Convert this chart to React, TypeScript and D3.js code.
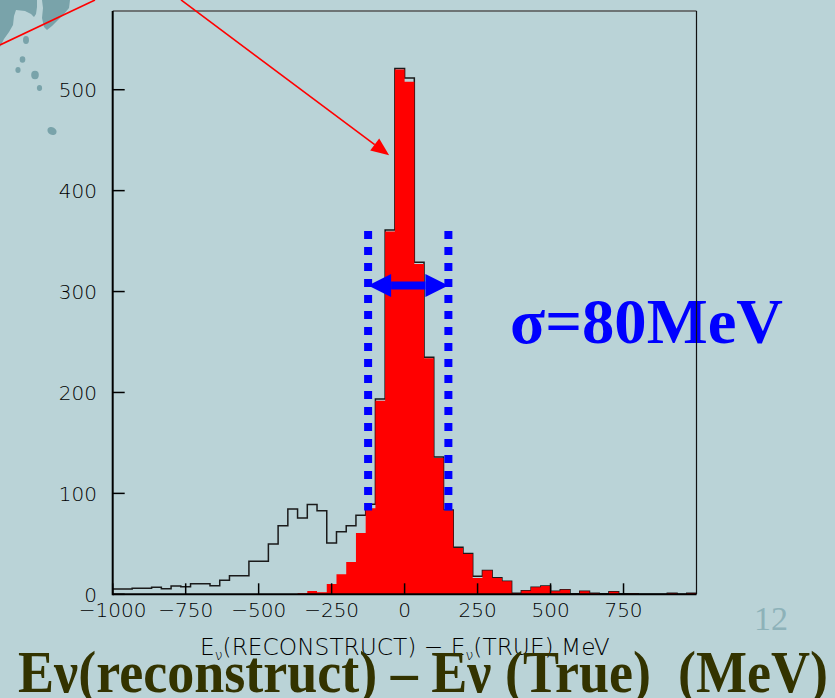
import React from "react";
import * as d3 from "d3";

// ---- data ----
const binStart = -1000;
const binCount = 60;
const binWidth = 2000 / binCount;
// total (black outline) histogram counts per bin
const totalCounts = [5.3,5.3,5.9,5.9,6.9,5.6,8.2,7.6,10.5,10.5,8.5,13.8,18.5,18.5,32.7,32.7,49.9,68,84.6,75.6,88.9,82.9,50.9,62,68,78.3,89.2,193.6,361,521,511.6,329,235,136,83.5,46.5,40.5,18,23.5,16.5,13,1,3.6,7,8.3,3,4.6,0.5,3,1,0.5,2.6,0.5,0.5,0,0,0,1,0,1];
// selected (red filled) histogram counts per bin
const redCounts = [0,0,0,0,0,0,0,0,0,0,0,0,0,0,0,0,0,0,0,1,3.3,2,10.2,19.8,32,60.8,85.3,191.7,359.5,520,508,327.4,233.8,135,83,46,40,16.2,23.5,16.2,12.9,0.7,3.6,7,8.3,3,4.6,0,3,1,0,2.6,0,0.5,0,0,0,1,0,1];
const xTicks = [-1000, -750, -500, -250, 0, 250, 500, 750];
const yTicks = [0, 100, 200, 300, 400, 500];
const sigmaLow = -125;
const sigmaHigh = 150;
const sigmaLabel = "σ=80MeV";
const slideTitle = "Eν(reconstruct) – Eν (True)  (MeV)";
const pageNumber = "12";

const W = 835;
const H = 698;

export default function App() {
  const x = d3.scaleLinear().domain([-1000, 1000]).range([112.7, 696.5]);
  const y = d3.scaleLinear().domain([0, 578]).range([594.3, 11]);
  const edges = d3.range(binCount).map((i) => binStart + i * binWidth);

  const stepPts: [number, number][] = edges.map((e, i) => [x(e), y(totalCounts[i])]);
  stepPts.push([x(1000), y(totalCounts[binCount - 1])]);
  const stepLine = d3.line().curve(d3.curveStepAfter)(stepPts) || "";

  const redPts: [number, number][] = edges.map((e, i) => [x(e), redCounts[i]]);
  redPts.push([x(1000), redCounts[binCount - 1]]);
  const redArea =
    d3
      .area<[number, number]>()
      .curve(d3.curveStepAfter)
      .x((d) => d[0])
      .y0(y(0))
      .y1((d) => y(d[1]))(redPts) || "";

  const tickFont = "'DejaVu Sans', sans-serif";
  const fmt = (v: number) => (v < 0 ? "\u2212" + Math.abs(v) : String(v));

  const teal = "#79a3aa";

  // arrow geometry (data coords)
  const arrowY = y(306);
  const xl = x(sigmaLow), xr = x(sigmaHigh);
  const headL = 23, headH = 11.5;

  // red annotation arrow
  const ax0 = x(-766), ay0 = y(589), ax1 = x(-53), ay1 = y(435);
  const ang = Math.atan2(ay1 - ay0, ax1 - ax0);
  const hl = 18, hw = 7.5;
  const bx = ax1 - hl * Math.cos(ang), by = ay1 - hl * Math.sin(ang);
  const px = -Math.sin(ang), py = Math.cos(ang);

  return (
    <div style={{ position: "absolute", left: 0, top: 0 }}>
      <svg width={W} height={H} style={{ display: "block" }}>
        <rect x={0} y={0} width={W} height={H} fill="#bad3d7" />
        {/* decoration top-left */}
        <path d="M0,0 L37,0 L37,7 L36,14 L34,17 L31,14 L25,11 L16,10 L14,16 L13,25 L9,32 L4,39 L0,47 Z" fill={teal} />
        <path d="M42,0 L70,0 L69,8 L64,14 L58,20 L52,26 L47,30 L44,27 L42,18 L43,8 Z" fill={teal} />
        <ellipse cx={26} cy={40} rx={3} ry={4} fill={teal} />
        <ellipse cx={22.5} cy={59.5} rx={2.8} ry={3.3} fill={teal} />
        <ellipse cx={18} cy={70} rx={2.6} ry={3} fill={teal} />
        <ellipse cx={35} cy={75} rx={3.8} ry={4.2} fill={teal} />
        <ellipse cx={39.5} cy={88} rx={2.6} ry={3} fill={teal} />
        <ellipse cx={52} cy={131} rx={4.8} ry={3.8} fill={teal} transform="rotate(30 52 131)" />
        <line x1={0} y1={45} x2={95} y2={0} stroke="#ff0000" strokeWidth={1.6} />

        {/* total histogram outline */}
        <path d={stepLine} fill="none" stroke="#1a1a1a" strokeWidth={1.5} />
        {/* red histogram */}
        <path d={redArea} fill="#ff0000" stroke="none" />

        {/* blue sigma markers */}
        {[sigmaLow, sigmaHigh].map((v) => (
          <line
            key={v}
            x1={x(v)}
            x2={x(v)}
            y1={y(360)}
            y2={y(83)}
            stroke="#0000ff"
            strokeWidth={8}
            strokeDasharray="8 8"
          />
        ))}
        <rect x={xl + headL} y={arrowY - 4} width={xr - xl - 2 * headL} height={8} fill="#0000ff" />
        <polygon points={`${xl},${arrowY} ${xl + headL},${arrowY - headH} ${xl + headL},${arrowY + headH}`} fill="#0000ff" />
        <polygon points={`${xr},${arrowY} ${xr - headL},${arrowY - headH} ${xr - headL},${arrowY + headH}`} fill="#0000ff" />

        <text
          x={510}
          y={343}
          fontFamily="'Liberation Serif', 'Times New Roman', serif"
          fontWeight="bold"
          fontSize={64}
          fill="#0000ff"
          textLength={273}
          lengthAdjust="spacingAndGlyphs"
        >
          {sigmaLabel}
        </text>

        {/* frame */}
        <line x1={x(-1000)} x2={x(1000)} y1={y(578)} y2={y(578)} stroke="#555" strokeWidth={1.5} />
        <line x1={x(1000)} x2={x(1000)} y1={y(578)} y2={y(0)} stroke="#111" strokeWidth={1.2} />
        <line x1={x(-1000)} x2={x(-1000)} y1={y(578)} y2={y(0) + 1} stroke="#000" strokeWidth={2} />
        <line x1={x(-1000)} x2={x(1000)} y1={y(0)} y2={y(0)} stroke="#000" strokeWidth={2} />
        {yTicks.map((t) => (
          <line key={"yt" + t} x1={x(-1000)} x2={x(-1000) + 12} y1={y(t)} y2={y(t)} stroke="#000" strokeWidth={1.5} />
        ))}
        {xTicks.map((t) => (
          <line key={"xt" + t} x1={x(t)} x2={x(t)} y1={y(0)} y2={y(0) - 11} stroke="#000" strokeWidth={1.5} />
        ))}
        {yTicks.map((t) => (
          <text
            key={"yl" + t}
            x={97}
            y={y(t)}
            dy="0.36em"
            textAnchor="end"
            fontFamily={tickFont}
            fontWeight={200}
            fontSize={20}
            fill="#000"
          >
            {t}
          </text>
        ))}
        {xTicks.map((t) => (
          <text
            key={"xl" + t}
            x={x(t)}
            y={617}
            textAnchor="middle"
            fontFamily={tickFont}
            fontWeight={200}
            fontSize={20}
            fill="#000"
          >
            {fmt(t)}
          </text>
        ))}
        <text x={200} y={655} fontFamily={tickFont} fontWeight={200} fontSize={23.3} fill="#000">
          E<tspan fontSize={14} dy={5}>ν</tspan>
          <tspan dy={-5}>(RECONSTRUCT) − E</tspan>
          <tspan fontSize={14} dy={5}>ν</tspan>
          <tspan dy={-5}>(TRUE) MeV</tspan>
        </text>

        {/* red annotation arrow */}
        <line x1={ax0} y1={ay0} x2={bx} y2={by} stroke="#ff0000" strokeWidth={1.6} />
        <polygon
          points={`${ax1},${ay1} ${bx + px * hw},${by + py * hw} ${bx - px * hw},${by - py * hw}`}
          fill="#ff0000"
        />

        <text
          x={18}
          y={692}
          fontFamily="'Liberation Serif', 'Times New Roman', serif"
          fontWeight="bold"
          fontSize={60}
          fill="#333300"
          textLength={810}
          lengthAdjust="spacingAndGlyphs"
          style={{ whiteSpace: "pre" }}
        >
          {slideTitle}
        </text>
        <text x={754} y={630} fontFamily="'Liberation Serif', 'Times New Roman', serif" fontSize={34} fill="#8db2b9">
          {pageNumber}
        </text>
      </svg>
    </div>
  );
}
